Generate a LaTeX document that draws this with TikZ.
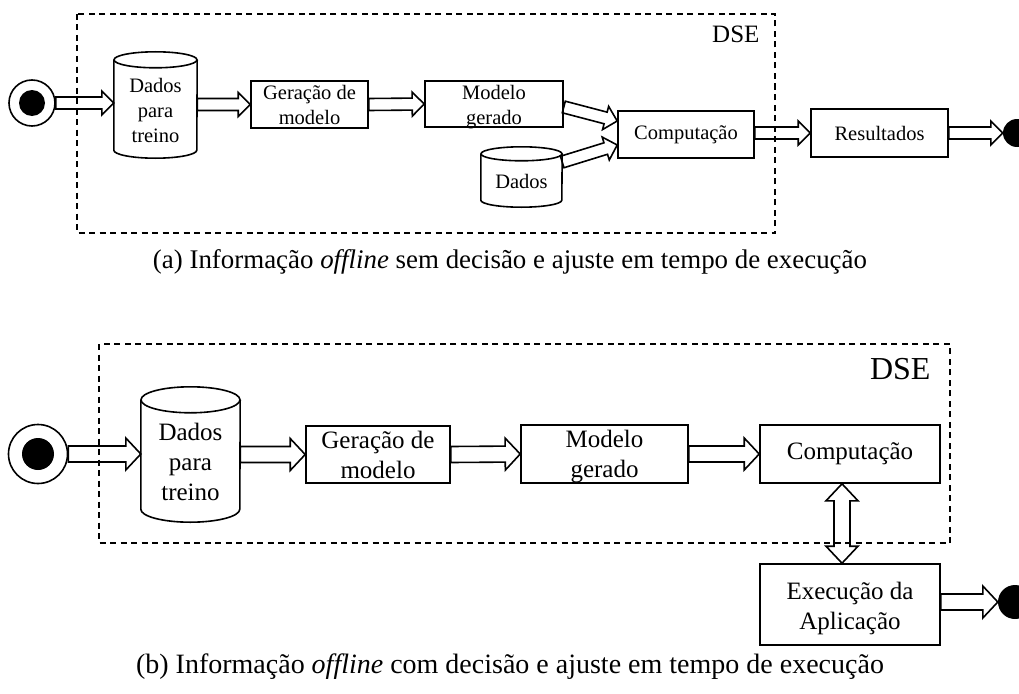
\documentclass[tikz,border=0pt]{standalone}
\usepackage{fontspec}
\setmainfont{Liberation Serif}
\usetikzlibrary{calc}
\tikzset{
  box/.style={draw, line width=1.6pt, align=center, inner sep=0pt},
  cylbody/.style={align=center, inner sep=0pt},
  cylline/.style={line width=1.6pt},
  dsebox/.style={line width=1.5pt, dash pattern=on 6pt off 4.5pt},
  fsA/.style={font=\fontsize{20.5}{25}\selectfont},
  fsB/.style={font=\fontsize{25}{30}\selectfont},
  capt/.style={font=\fontsize{26.9}{32}\selectfont},
  captB/.style={font=\fontsize{28}{33}\selectfont},
  barrow/.style n args={3}{line width=1.6pt, to path={
    ($(\tikztostart)!#1!90:(\tikztotarget)$)
    -- ($(\tikztotarget)!#3!(\tikztostart)!#1!-90:(\tikztostart)$)
    -- ($(\tikztotarget)!#3!(\tikztostart)!#2!-90:(\tikztostart)$)
    -- (\tikztotarget)
    -- ($(\tikztotarget)!#3!(\tikztostart)!#2!90:(\tikztostart)$)
    -- ($(\tikztotarget)!#3!(\tikztostart)!#1!90:(\tikztostart)$)
    -- ($(\tikztostart)!#1!-90:(\tikztotarget)$) -- cycle}},
  dbarrow/.style n args={3}{line width=1.6pt, to path={
    (\tikztostart)
    -- ($(\tikztostart)!#3!(\tikztotarget)!#2!90:(\tikztotarget)$)
    -- ($(\tikztostart)!#3!(\tikztotarget)!#1!90:(\tikztotarget)$)
    -- ($(\tikztotarget)!#3!(\tikztostart)!#1!-90:(\tikztostart)$)
    -- ($(\tikztotarget)!#3!(\tikztostart)!#2!-90:(\tikztostart)$)
    -- (\tikztotarget)
    -- ($(\tikztotarget)!#3!(\tikztostart)!#2!90:(\tikztostart)$)
    -- ($(\tikztotarget)!#3!(\tikztostart)!#1!90:(\tikztostart)$)
    -- ($(\tikztostart)!#3!(\tikztotarget)!#1!-90:(\tikztotarget)$)
    -- ($(\tikztostart)!#3!(\tikztotarget)!#2!-90:(\tikztotarget)$)
    -- cycle}},
  arrA/.style={barrow={6pt}{12pt}{12pt}},
  arrB/.style={barrow={8pt}{16pt}{15pt}},
}
\begin{document}
\begin{tikzpicture}[x=1pt,y=-1pt]
\useasboundingbox (0,0) rectangle (1019,693);

% ---------------- panel (a) ----------------
\draw[dsebox] (77,14) rectangle (775,233);
\node[font=\fontsize{25}{29}\selectfont, anchor=base east] (dseA) at (763,42) {DSE};

\node[draw, circle, line width=1.6pt, minimum size=46pt, inner sep=0pt] (startA) at (32,103) {};
\node[fill=black, circle, minimum size=26pt, inner sep=0pt] (startAin) at (32,103) {};

\node[cylbody, minimum width=83pt, minimum height=90pt] (cylA) at (155.5,105) {};
\node[fsA, align=center, inner sep=0pt] (cylAtxt) at ($(cylA.center)+(0,5)$) {Dados\\para\\treino};
\draw[cylline] (cylA.north west) -- (cylA.south west)
   arc[start angle=180, end angle=360, x radius=41.5pt, y radius=8pt] -- (cylA.north east);
\draw[cylline] (cylA.north) ellipse[x radius=41.5pt, y radius=8pt];

\node[box, fsA, minimum width=117pt, minimum height=47pt] (genA) at (309.5,104.5) {Geração de\\modelo};
\node[box, minimum width=138pt, minimum height=46pt] (modA) at (494,104) {};
\node[fsA, align=center, inner sep=0pt] (modAtxt) at ($(modA.center)+(0,3)$) {Modelo\\gerado};
\node[box, fsA, minimum width=136pt, minimum height=47pt] (compA) at (686,134.5) {Computação};
\node[box, fsA, minimum width=137pt, minimum height=48pt] (resA) at (879.5,133) {Resultados};

\node[cylbody, minimum width=81pt, minimum height=46pt] (datA) at (521.5,177) {};
\node[fsA, inner sep=0pt] (datAtxt) at ($(datA.center)+(0,4)$) {Dados};
\draw[cylline] (datA.north west) -- (datA.south west)
   arc[start angle=180, end angle=360, x radius=40.5pt, y radius=7pt] -- (datA.north east);
\draw[cylline] (datA.north) ellipse[x radius=40.5pt, y radius=7pt];

\node[fill=black, circle, minimum size=28pt, inner sep=0pt] (endA) at (1017,133) {};

\coordinate (mA1) at ($(modA.east)+(0,3)$);
\coordinate (cA1) at ($(compA.west)+(0,-13.5)$);
\coordinate (dA1) at ($(datA.east)+(0,-15)$);
\coordinate (cA2) at ($(compA.west)+(0,10.5)$);

\draw[arrA] (startA.east) to (cylA.west |- startA.east);
\draw[arrA] (cylA.east |- genA.west) to (genA.west);
\draw[arrA] (genA.east) to (modA.west);
\draw[arrA] (mA1) to (cA1);
\draw[arrA] (dA1) to (cA2);
\draw[arrA] (compA.east |- resA.west) to (resA.west);
\draw[arrA] (resA.east) to (endA.west);

\node[capt] (capA) at (510,262) {(a) Informação \textit{offline} sem decisão e ajuste em tempo de execução};

% ---------------- panel (b) ----------------
\draw[dsebox] (99,344) rectangle (950,543);
\node[font=\fontsize{32}{37}\selectfont, anchor=base east] (dseB) at (934,379) {DSE};

\node[draw, circle, line width=1.6pt, minimum size=59pt, inner sep=0pt] (startB) at (38,454) {};
\node[fill=black, circle, minimum size=32pt, inner sep=0pt] (startBin) at (38,454) {};

\node[cylbody, minimum width=99pt, minimum height=109pt] (cylB) at (190.5,454.5) {};
\node[fsB, align=center, inner sep=0pt] (cylBtxt) at ($(cylB.center)+(0,7)$) {Dados\\para\\treino};
\draw[cylline] (cylB.north west) -- (cylB.south west)
   arc[start angle=180, end angle=360, x radius=49.5pt, y radius=13pt] -- (cylB.north east);
\draw[cylline] (cylB.north) ellipse[x radius=49.5pt, y radius=13pt];

\node[box, fsB, minimum width=144pt, minimum height=57pt] (genB) at (378,454.5) {Geração de\\modelo};
\node[box, minimum width=167pt, minimum height=58pt] (modB) at (604.5,454) {};
\node[fsB, align=center, inner sep=0pt] (modBtxt) at ($(modB.center)+(0,3)$) {Modelo\\gerado};
\node[box, fsB, minimum width=180pt, minimum height=58pt] (compB) at (850,454) {Computação};
\node[box, minimum width=180pt, minimum height=81pt] (execB) at (850,604.5) {};
\node[fsB, align=center, inner sep=0pt] (execBtxt) at ($(execB.center)+(0,4)$) {Execução da\\Aplicação};

\node[fill=black, circle, minimum size=34pt, inner sep=0pt] (endB) at (1015,602) {};

\coordinate (cB1) at ($(compB.south)+(-8,0)$);
\coordinate (eB1) at ($(execB.north)+(-8,0)$);

\draw[arrB] (startB.east) to (cylB.west |- startB.east);
\draw[arrB] (cylB.east |- genB.west) to (genB.west);
\draw[arrB] (genB.east) to (modB.west);
\draw[arrB] (modB.east) to (compB.west);
\draw[dbarrow={8pt}{16pt}{17pt}] (cB1) to (eB1);
\draw[arrB] (execB.east |- endB.west) to (endB.west);

\node[captB] (capB) at (510,667) {(b) Informação \textit{offline} com decisão e ajuste em tempo de execução};
\end{tikzpicture}
\end{document}
